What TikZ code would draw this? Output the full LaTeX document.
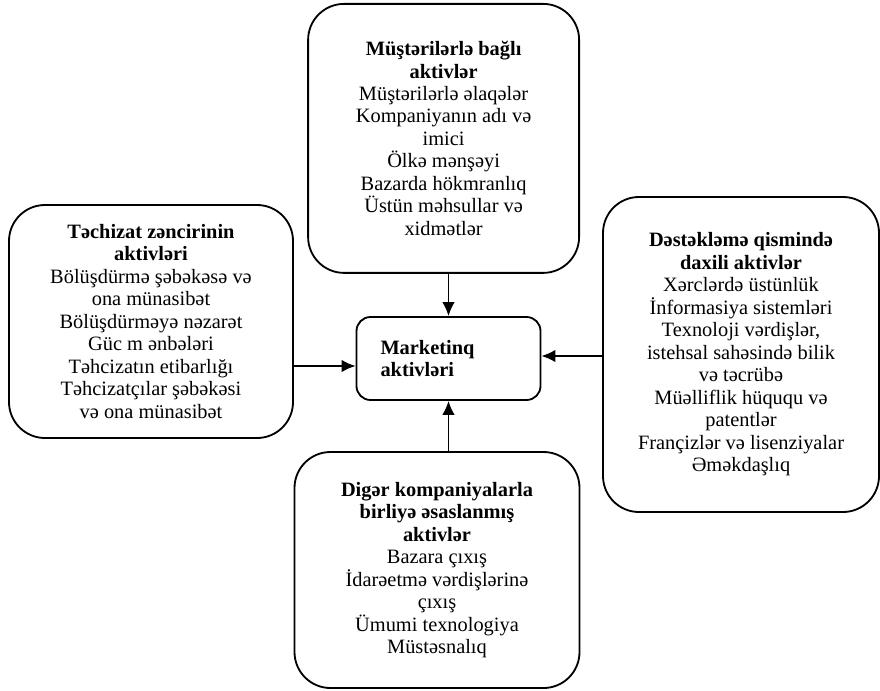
\documentclass[tikz,border=0pt]{standalone}
\usepackage{fontspec}
\setmainfont{Liberation Serif}
\usepackage{tikz}
\usetikzlibrary{arrows.meta, shapes}

\begin{document}
\begin{tikzpicture}[box/.style={draw, line width=1.3pt, rounded corners=0.9cm, align=center, inner sep=0pt},
				>={Latex[length=10pt,width=9pt]},   %Voreinstellung für Pfeilspitzen
				font=\fontsize{14.5}{16}\selectfont]
				%Bildbereich
				\useasboundingbox (0,0) rectangle (22,17.25);
				% Mitte
				\node[draw, line width=1.3pt, rounded corners=0.35cm, align=left, text width=3.4cm, inner xsep=0.6cm,
					minimum height=2.075cm] (mkt) at (11.2125,8.2875) {\textbf{Marketinq}\\\textbf{aktivləri}};
				% Kästen ringsum
				\node[box, minimum width=6.775cm, minimum height=6.725cm] (musteri) at (11.09,13.79)
					{\textbf{Müştərilərlə bağlı}\\\textbf{aktivlər}\\Müştərilərlə əlaqələr\\Kompaniyanın adı və\\imici\\Ölkə mənşəyi\\Bazarda hökmranlıq\\Üstün məhsullar və\\xidmətlər};
				\node[box, minimum width=7.1cm, minimum height=5.825cm] (techizat) at (3.775,9.2125)
					{\textbf{Təchizat zəncirinin}\\\textbf{aktivləri}\\Bölüşdürmə şəbəkəsə və\\ona münasibət\\Bölüşdürməyə nəzarət\\Güc m ənbələri\\Təhcizatın etibarlığı\\Təhcizatçılar şəbəkəsi\\və ona münasibət};
				\node[box, minimum width=6.9cm, minimum height=7.875cm] (destek) at (18.525,8.3875)
					{\textbf{Dəstəkləmə qismində}\\\textbf{daxili aktivlər}\\Xərclərdə üstünlük\\İnformasiya sistemləri\\Texnoloji vərdişlər,\\istehsal sahəsində bilik\\və təcrübə\\Müəlliflik hüququ və\\patentlər\\Françizlər və lisenziyalar\\Əməkdaşlıq};
				\node[box, minimum width=7.125cm, minimum height=5.9cm] (birlik) at (10.925,3.0)
					{\textbf{Digər kompaniyalarla}\\\textbf{birliyə əsaslanmış}\\\textbf{aktivlər}\\Bazara çıxış\\İdarəetmə vərdişlərinə\\çıxış\\Ümumi texnologiya\\Müstəsnalıq};
				%Pfeile zeichnen
				\draw[->, line width=1.3pt] (musteri.south -| mkt.north) -- (mkt.north);
				\draw[->, line width=1.3pt] (birlik.north -| mkt.south) -- (mkt.south);
				\draw[->, line width=1.3pt] (techizat.east |- 0,8.1) -- (mkt.west |- 0,8.1);
				\draw[->, line width=1.3pt] (destek.west |- 0,8.35) -- (mkt.east |- 0,8.35);
\end{tikzpicture}
\end{document}
